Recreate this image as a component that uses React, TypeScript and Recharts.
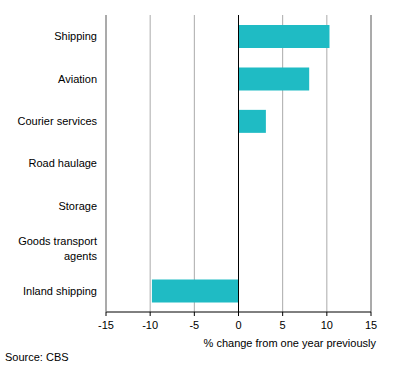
import React from "react";
import { BarChart, Bar, XAxis, YAxis, CartesianGrid, ReferenceLine } from "recharts";

const categories = ["Shipping", "Aviation", "Courier services", "Road haulage", "Storage", "Goods transport agents", "Inland shipping"];
const values: (number | null)[] = [10.3, 8.0, 3.1, null, null, null, -9.8];
const xTicks = [-15, -10, -5, 0, 5, 10, 15];

const data = categories.map((c, i) => ({ name: c, value: values[i] }));

const FONT = "'Liberation Sans', Arial, sans-serif";

const wrapMap: Record<string, string[]> = {
  "Goods transport agents": ["Goods transport", "agents"],
};

const CatTick = (props: any) => {
  const { x, y, payload } = props;
  const lines = wrapMap[payload.value] || [payload.value];
  const lh = 15;
  const start = -((lines.length - 1) * lh) / 2;
  return (
    <text x={x} y={y} textAnchor="end" fontSize={11} fontFamily={FONT} fill="#000">
      {lines.map((l: string, i: number) => (
        <tspan key={i} x={x} y={y + start + i * lh} dy="0.355em">
          {l}
        </tspan>
      ))}
    </text>
  );
};

export default function App() {
  return (
    <div style={{ position: "absolute", left: 0, top: 0, width: 396, height: 365, background: "#fff", fontFamily: FONT }}>
      <BarChart
        width={396}
        height={365}
        data={data}
        layout="vertical"
        margin={{ top: 15, right: 25, left: 6, bottom: 23 }}
        barSize={23}
      >
        <CartesianGrid horizontal={false} stroke="#aaaaaa" />
        <XAxis
          type="number"
          domain={[-15, 15]}
          ticks={xTicks}
          allowDataOverflow
          axisLine={{ stroke: "#000" }}
          tickLine={{ stroke: "#000" }}
          tickSize={4}
          tickMargin={5}
          tick={{ fontSize: 11, fill: "#000", fontFamily: FONT }}
          height={30}
        />
        <XAxis xAxisId="top" orientation="top" type="number" domain={[-15, 15]} tick={false} tickLine={false} axisLine={{ stroke: "#808080" }} height={0} />
        <YAxis
          type="category"
          dataKey="name"
          width={100}
          axisLine={{ stroke: "#808080" }}
          tickLine={false}
          tickSize={0}
          tickMargin={9}
          tick={<CatTick />}
          interval={0}
        />
        <ReferenceLine x={15} stroke="#808080" />
        <ReferenceLine x={0} stroke="#000" />
        <Bar dataKey="value" fill="#1fbbc4" isAnimationActive={false} />
      </BarChart>
      <div style={{ position: "absolute", right: 20, top: 337, fontSize: 11, color: "#000", whiteSpace: "nowrap" }}>
        % change from one year previously
      </div>
      <div style={{ position: "absolute", left: 5, top: 351, fontSize: 11, color: "#000", whiteSpace: "nowrap" }}>
        Source: CBS
      </div>
    </div>
  );
}
